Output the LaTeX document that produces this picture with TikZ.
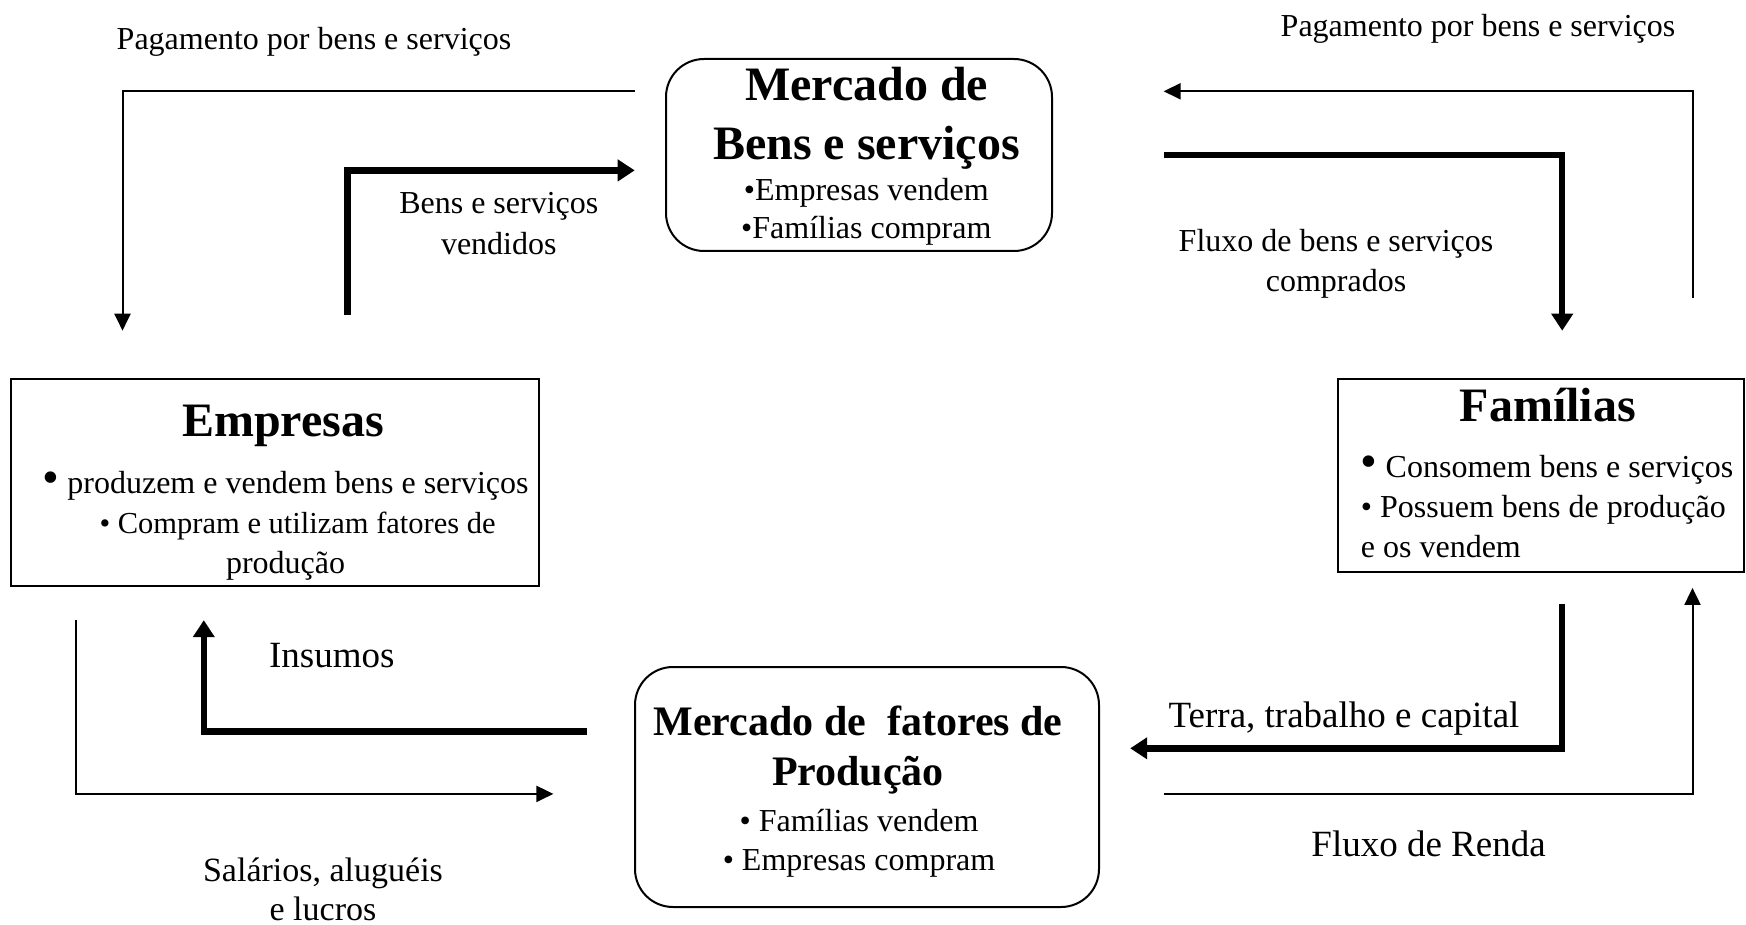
\documentclass[tikz,border=0pt]{standalone}
\usepackage{fontspec}
\setmainfont{Liberation Serif}
\usetikzlibrary{arrows.meta}

\newcommand{\bigbul}{\smash{\fontsize{48}{48}\selectfont •}}

\begin{document}
\begin{tikzpicture}[x=1pt,y=-1pt,
  box/.style={draw,line width=2pt,inner sep=0pt},
  roundbox/.style={box,rounded corners=38pt},
  thinflow/.style={line width=2pt,-{Triangle[length=17pt,width=16pt]}},
  thickflow/.style={line width=6.5pt,-{Triangle[length=17pt,width=21pt]}},
  txt/.style={inner sep=0pt,align=center,font=\fontsize{32}{40}\selectfont},
  bigtxt/.style={inner sep=0pt,align=center,font=\fontsize{37}{44}\selectfont},
  title/.style={inner sep=0pt,align=center,font=\fontsize{48}{59}\selectfont\bfseries}]
\useasboundingbox (0,0) rectangle (1746,925);

% Boxes
\node[roundbox,minimum width=386pt,minimum height=192pt] (goodsmkt) at (859,155) {};
\node[roundbox,minimum width=464pt,minimum height=240pt] (factormkt) at (867,787) {};
\node[box,minimum width=528pt,minimum height=207pt] (firms) at (275,482) {};
\node[box,minimum width=406pt,minimum height=193pt] (homes) at (1541,475) {};

% Box texts
\node[title] (goodstitle) at (866.6,117.8) {Mercado de\\Bens e serviços};
\node[txt,font=\fontsize{32}{38}\selectfont] (goodsbody) at (866.3,211.5) {•Empresas vendem\\•Famílias compram};
\node[title,anchor=base] (firmstitle) at (283,436) {Empresas};
\node[txt,font=\fontsize{32}{40}\selectfont] (firmsbody) at (285.6,526) {\bigbul\ produzem e vendem bens e serviços\\\hspace*{24pt}{\fontsize{30.5}{40}\selectfont • Compram e utilizam fatores de}\\produção};
\node[title,anchor=base] (homestitle) at (1547.8,421) {Famílias};
\node[txt,align=left,anchor=north west] (homesbody) at (1360.7,455) {\bigbul\ Consomem bens e serviços\\• Possuem bens de produção\\e os vendem};
\node[title,font=\fontsize{42}{50}\selectfont\bfseries] (factortitle) at (858,750) {Mercado de\ \ fatores de\\Produção};
\node[txt,font=\fontsize{32}{39}\selectfont] (factorbody) at (859,843) {• Famílias vendem\\• Empresas compram};

% Flow ends
\coordinate (payLa) at (634.7,91.3);  \coordinate (payLb) at (122.5,330.7);
\coordinate (soldA) at (347.4,315.1); \coordinate (soldB) at (634.7,170.4);
\coordinate (payRa) at (1692.5,298.4); \coordinate (payRb) at (1163.6,91.3);
\coordinate (boughtA) at (1163.6,154.8); \coordinate (boughtB) at (1562.2,330.7);
\coordinate (wageA) at (75.7,620.2); \coordinate (wageB) at (553.4,793.9);
\coordinate (inputA) at (586.8,731.6); \coordinate (inputB) at (203.8,620.2);
\coordinate (landA) at (1562.2,603.5); \coordinate (landB) at (1130.2,748.3);
\coordinate (incomeA) at (1163.6,793.9); \coordinate (incomeB) at (1692.5,587.9);

% Flows
\draw[thinflow] (payLa) -| (payLb);
\draw[thickflow] (soldA) |- (soldB);
\draw[thinflow] (payRa) |- (payRb);
\draw[thickflow] (boughtA) -| (boughtB);
\draw[thinflow] (wageA) |- (wageB);
\draw[thickflow] (inputA) -| (inputB);
\draw[thickflow] (landA) |- (landB);
\draw[thinflow] (incomeA) -| (incomeB);

% Flow labels
\node[txt,anchor=base] (payLtxt) at (314,50) {Pagamento por bens e serviços};
\node[txt,anchor=base] (payRtxt) at (1478,37) {Pagamento por bens e serviços};
\node[txt,font=\fontsize{32}{41}\selectfont] (soldtxt) at (498.8,223.3) {Bens e serviços\\vendidos};
\node[txt] (boughttxt) at (1336,263.5) {Fluxo de bens e serviços\\comprados};
\node[bigtxt,anchor=base] (inputtxt) at (331.8,667) {Insumos};
\node[bigtxt,anchor=base] (landtxt) at (1344,727) {Terra, trabalho e capital};
\node[bigtxt,anchor=base] (incometxt) at (1428.6,856.5) {Fluxo de Renda};
\node[txt,font=\fontsize{34}{39}\selectfont] (wagetxt) at (323,889) {Salários, aluguéis\\e lucros};
\end{tikzpicture}
\end{document}
